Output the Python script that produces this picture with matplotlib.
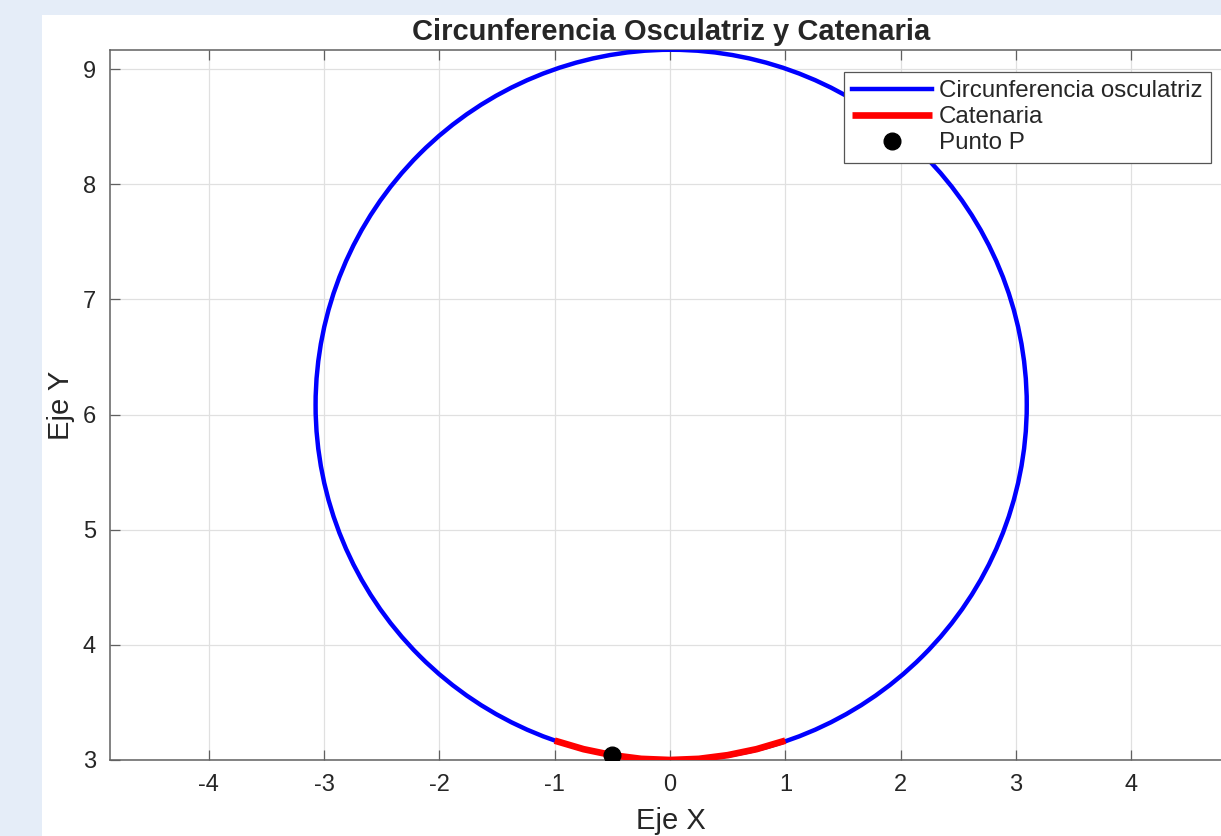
import matplotlib
matplotlib.use('Agg')
import matplotlib.pyplot as plt
from matplotlib.patches import Circle, Rectangle
from matplotlib.lines import Line2D

plt.rcParams['font.family'] = ['Liberation Sans', 'DejaVu Sans']
plt.rcParams['axes.unicode_minus'] = False

# osculating circle
circ_center = (0.01, 6.083)
circ_radius = 3.084

# catenary points
cat_x = [-1.0, -0.75, -0.5, -0.25, 0.0, 0.25, 0.5, 0.75, 1.0]
cat_y = [3.168, 3.094, 3.042, 3.010, 3.000, 3.010, 3.042, 3.094, 3.168]

# point P
p_x = [-0.5]
p_y = [3.042]

xticks = [-4, -3, -2, -1, 0, 1, 2, 3, 4]
yticks = [3, 4, 5, 6, 7, 8, 9]

W, H = 1221, 836
fig = plt.figure(figsize=(W/100, H/100), dpi=100, facecolor='#e5edf8')
bg = Rectangle((42/W, 0), 1, 1 - 15/H, transform=fig.transFigure,
               facecolor='white', edgecolor='none', zorder=-10)
fig.add_artist(bg)

ax = fig.add_axes([110/W, 1 - 760/H, 1122/W, 710/H])
ax.set_facecolor('white')

ax.add_patch(Circle(circ_center, circ_radius, fill=False, edgecolor='#0000ff',
                    linewidth=3.2, zorder=3))
cat_line, = ax.plot(cat_x, cat_y, color='#ff0000', linewidth=4.8,
                    solid_capstyle='butt', zorder=4, label='Catenaria')
pt, = ax.plot(p_x, p_y, 'o', color='black', markersize=12, linestyle='none',
              zorder=5, label='Punto P')

ax.set_xlim(-4.857, 4.874)
ax.set_ylim(3.0, 9.165)
ax.set_xticks(xticks)
ax.set_yticks(yticks)

ax.grid(True, color='#e0e0e0', linewidth=0.9)
ax.set_axisbelow(True)
for s in ax.spines.values():
    s.set_color('#606060')
    s.set_linewidth(1.1)
ax.tick_params(direction='in', length=7, width=0.9, color='#606060',
               labelsize=17, labelcolor='#262626', top=True, right=True, pad=10)

ax.set_title('Circunferencia Osculatriz y Catenaria', fontsize=21, fontweight='bold',
             color='#262626', pad=7)
ax.set_xlabel('Eje X', fontsize=21, color='#262626', labelpad=8)
ax.set_ylabel('Eje Y', fontsize=21, color='#262626', labelpad=6)

circ_handle = Line2D([], [], color='#0000ff', linewidth=3.2, label='Circunferencia osculatriz')
leg = ax.legend(handles=[circ_handle, cat_line, pt], loc='upper right',
                bbox_to_anchor=(0.9813, 0.969), borderaxespad=0, fontsize=17.4,
                fancybox=False, framealpha=1, edgecolor='#555555', handlelength=3.3,
                handletextpad=0.3, labelspacing=0.17, borderpad=0.34)
leg.get_frame().set_linewidth(0.9)
for t in leg.get_texts():
    t.set_color('#262626')

fig.savefig('out.png', dpi=100, facecolor=fig.get_facecolor())
